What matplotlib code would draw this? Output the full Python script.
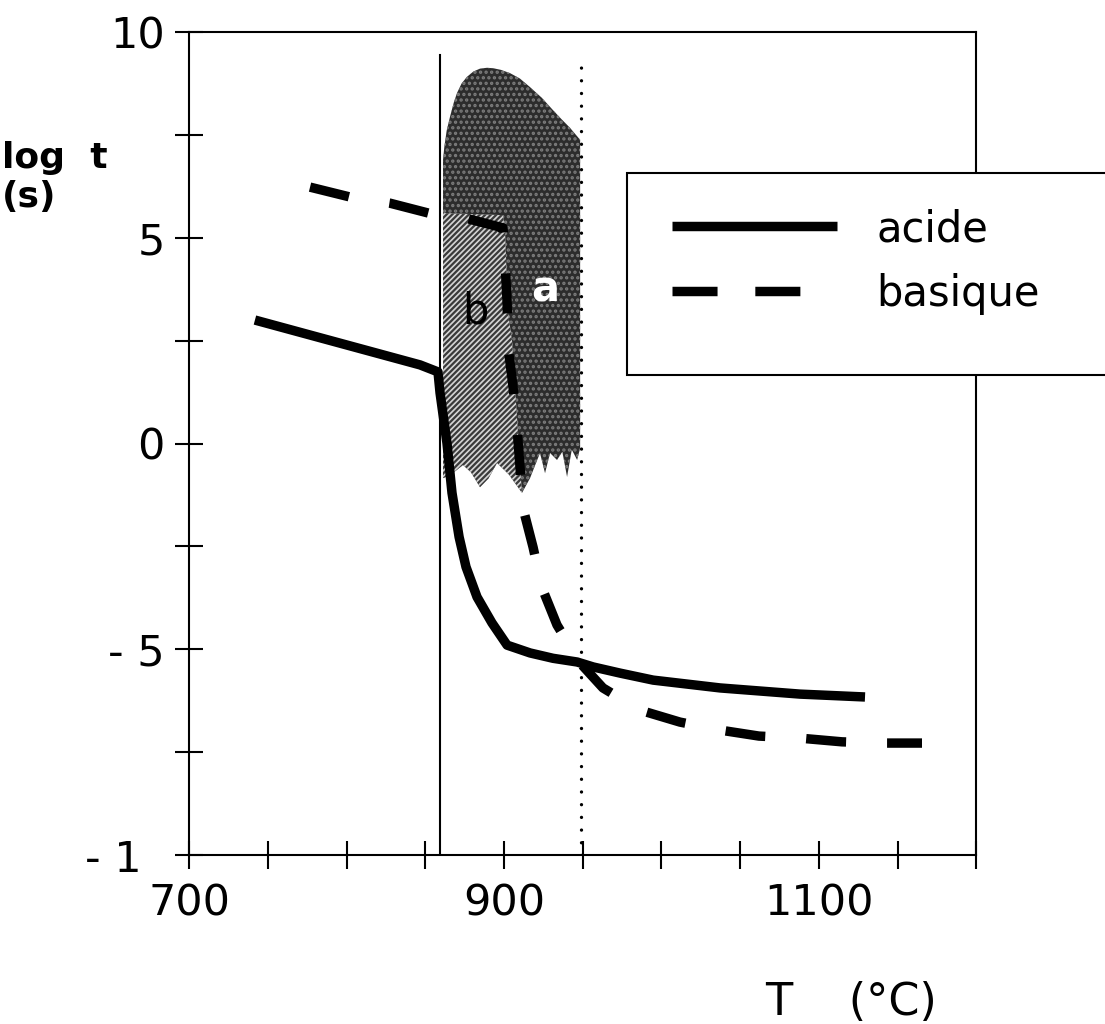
"""
Isothermal time-temperature chart: acide / basique curves with shaded domains
"""
import numpy as np
import matplotlib
matplotlib.use("Agg")
import matplotlib.pyplot as plt
from matplotlib.patches import Polygon, Rectangle
from matplotlib.lines import Line2D

# ---- data ----------------------------------------------------------------
acide_T = [741.7, 846.6, 858.0, 859.3, 863.7, 866.9, 871.4, 875.8, 882.8,
           892.3, 901.9, 916.5, 931.1, 946.4, 956.6, 973.7, 994.7, 1037.2,
           1088.0, 1129.3]
acide_logt = [3.0, 1.91, 1.74, 1.23, 0.01, -1.20, -2.27, -3.0, -3.73,
              -4.36, -4.90, -5.09, -5.22, -5.31, -5.43, -5.58, -5.75, -5.94,
              -6.09, -6.16]

basique_T = [776.7, 802.1, 827.5, 852.9, 877.1, 899.3, 900.6, 901.9, 902.5,
             905.7, 908.2, 910.1, 912.0, 918.4, 924.1, 933.6, 948.2, 962.8,
             986.3, 1011.7, 1036.5, 1061.9, 1088.0, 1114.7, 1140.1, 1165.5]
basique_logt = [6.23, 5.99, 5.84, 5.59, 5.46, 5.24, 4.39, 3.44, 2.35,
                1.37, 0.38, -0.57, -1.57, -2.52, -3.51, -4.41, -5.33, -5.94,
                -6.48, -6.77, -6.96, -7.11, -7.16, -7.25, -7.28, -7.28]

# domain "a" (dark) and domain "b" (light)
region_a_T = [861.2, 861.2, 862.0, 863.5, 865.7, 868.0, 870.1, 873.0, 876.4,
              880.5, 884.7, 889.0, 893.0, 898.0, 903.8, 910.0, 916.5, 924.0,
              931.1, 936.5, 941.9, 948.3, 948.3, 946.4, 943.0, 940.0, 937.0,
              933.6, 929.2, 926.0, 922.8, 919.5, 916.5, 911.4, 903.0, 895.5,
              890.0, 884.7, 879.0, 873.9, 865.7]
region_a_logt = [-0.84, 6.89, 7.20, 7.60, 7.95, 8.28, 8.52, 8.75, 8.91,
                 9.04, 9.11, 9.13, 9.12, 9.08, 9.00, 8.87, 8.66, 8.40,
                 8.10, 7.88, 7.67, 7.38, -0.11, -0.40, -0.15, -0.81, -0.20,
                 -0.40, -0.23, -0.72, -0.23, -0.55, -0.84, -1.20, -0.75,
                 -0.47, -0.85, -1.06, -0.70, -0.52, -0.77]

region_b_T = [861.2, 899.3, 900.6, 902.5, 905.0, 908.2, 910.1, 911.4, 903.0,
              895.5, 890.0, 884.7, 879.0, 873.9, 865.7, 861.2]
region_b_logt = [5.60, 5.55, 5.19, 3.17, 2.52, 0.64, -0.57, -1.20, -0.75,
                 -0.47, -0.85, -1.06, -0.70, -0.52, -0.77, -0.84]

T_limit = 859.3        # solid vertical line
T_limit_top = 9.44
T_dotted = 949.0       # dotted vertical line
T_dotted_top = 9.2

x_ticks = np.arange(700, 1201, 50)
x_tick_labels = ['700', '', '', '', '900', '', '', '', '1100', '', '']
y_ticks = np.arange(-10, 10.1, 2.5)
y_tick_labels = ['', '', '- 5', '', '0', '', '5', '', '10']
y_bottom_label = '- 1'

labels = ['acide', 'basique']

# ---- figure ----------------------------------------------------------------
W, H = 1105, 1024
fig = plt.figure(figsize=(W / 100, H / 100), dpi=100)
ax = fig.add_axes([189.3 / W, 1 - 855 / H, (976.3 - 189.3) / W, (855 - 32) / H])

ax.set_xlim(700, 1200)
ax.set_ylim(-10, 10)

plt.rcParams['hatch.linewidth'] = 1.6
ax.add_patch(Polygon(np.column_stack([region_a_T, region_a_logt]),
                     facecolor='#2c2c2c', edgecolor='#7c7c7c', hatch='...',
                     lw=0, zorder=1))
ax.add_patch(Polygon(np.column_stack([region_b_T, region_b_logt]),
                     facecolor='#d4d4d4', edgecolor='#3a3a3a', hatch='//////',
                     lw=0, zorder=1.5))

ax.plot([T_limit, T_limit], [-10, T_limit_top], color='black', lw=1.5, zorder=2)
ax.plot([T_dotted, T_dotted], [-10, T_dotted_top], color='black', lw=2.4,
        dashes=(0.01, 3.8), dash_capstyle='round', zorder=2)

lw = 6.8
ax.plot(acide_T, acide_logt, color='black', lw=lw, solid_capstyle='butt',
        solid_joinstyle='round', zorder=3)
ax.plot(basique_T, basique_logt, color='black', lw=lw, dashes=(4.24, 4.34),
        dash_capstyle='butt', zorder=3)

ax.text(926, 3.75, 'a', color='white', fontsize=30, ha='center', va='center',
        fontweight='bold', zorder=4)
ax.text(882, 3.2, 'b', color='black', fontsize=30, ha='center', va='center',
        zorder=4)

ax.set_xticks(x_ticks)
ax.set_xticklabels(x_tick_labels)
ax.set_yticks(y_ticks)
ax.set_yticklabels(y_tick_labels)
ax.tick_params(direction='inout', length=19.5, width=1.5, labelsize=31)
ax.tick_params(axis='x', pad=10)
ax.tick_params(axis='y', pad=8)
for s in ax.spines.values():
    s.set_linewidth(1.5)
ax.text(-0.060, -10, y_bottom_label, transform=ax.get_yaxis_transform(),
        ha='right', va='center_baseline', fontsize=31)

# axis titles
fig.text(2 / W, 1 - 168 / H, 'log  t', fontsize=26, fontweight='bold',
         ha='left', va='baseline')
fig.text(2 / W, 1 - 207 / H, '(s)', fontsize=26, fontweight='bold',
         ha='left', va='baseline')
fig.text(765 / W, 1 - 1015 / H, 'T    (°C)', fontsize=32, ha='left',
         va='baseline')

# legend box running off the right edge
fig.patches.append(Rectangle((627 / W, 1 - 375 / H), 500 / W, 202 / H,
                             transform=fig.transFigure, facecolor='white',
                             edgecolor='black', lw=1.5, zorder=5))
handles = [Line2D([], [], color='black', lw=lw, solid_capstyle='butt'),
           Line2D([], [], color='black', lw=lw, dashes=(4.77, 4.0),
                  dash_capstyle='butt')]
leg = fig.legend(handles, labels, loc='upper left',
                 bbox_to_anchor=(672 / W, 1 - 208 / H), frameon=False,
                 fontsize=30, handlelength=3.95, handletextpad=0.95,
                 labelspacing=0.55, borderpad=0, borderaxespad=0)
leg.set_zorder(6)

fig.savefig('out.png', dpi=100)
